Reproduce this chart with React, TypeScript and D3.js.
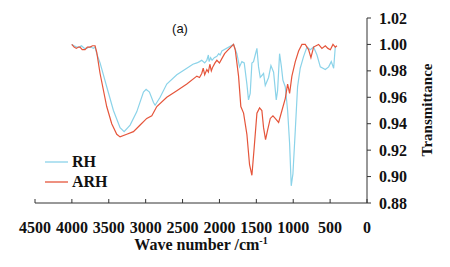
import React from "react";
import * as d3 from "d3";

const rhWn = [4002,3970,3935,3900,3870,3830,3799,3770,3740,3710,3686,3663,3618,3528,3437,3347,3292,3211,3121,3030,2994,2949,2894,2872,2804,2714,2578,2442,2360,2306,2270,2240,2200,2171,2150,2140,2120,2100,2070,2035,2010,1990,1967,1809,1764,1728,1696,1664,1628,1606,1583,1560,1538,1515,1492,1470,1447,1402,1379,1334,1302,1266,1230,1212,1185,1162,1140,1108,1076,1049,1027,1004,972,941,905,859,814,769,724,678,633,565,520,484,452,430];
const rhT = [1.000,0.999,0.998,0.998,0.999,0.997,0.997,0.998,0.998,0.997,0.998,0.993,0.986,0.968,0.950,0.937,0.934,0.939,0.949,0.964,0.966,0.964,0.956,0.954,0.960,0.970,0.977,0.982,0.985,0.986,0.987,0.988,0.986,0.988,0.992,0.987,0.990,0.988,0.990,0.991,0.993,0.992,0.995,1.000,0.993,0.983,0.987,0.986,0.970,0.958,0.963,0.986,0.987,0.992,0.997,0.983,0.975,0.978,0.969,0.975,0.984,0.979,0.958,0.965,0.993,0.984,0.973,0.968,0.950,0.925,0.893,0.902,0.935,0.968,0.982,0.991,0.998,0.996,0.998,0.992,0.983,0.981,0.983,0.987,0.982,0.998];

const arhWn = [4002,3970,3940,3910,3890,3860,3822,3790,3754,3720,3686,3663,3618,3528,3460,3392,3347,3256,3166,3075,2985,2917,2849,2714,2578,2442,2306,2270,2240,2220,2200,2171,2150,2130,2110,2090,2060,2035,2000,1960,1930,1899,1809,1786,1741,1710,1673,1628,1592,1560,1529,1492,1456,1425,1402,1375,1348,1311,1275,1244,1198,1153,1108,1076,1049,1018,972,927,882,837,791,760,724,690,656,611,565,530,497,461,430,407];
const arhT = [1.000,0.998,0.997,0.998,0.998,0.996,0.996,0.998,0.998,0.999,0.999,0.994,0.978,0.953,0.940,0.932,0.930,0.932,0.934,0.939,0.944,0.946,0.953,0.960,0.965,0.970,0.976,0.975,0.978,0.982,0.977,0.981,0.979,0.985,0.980,0.983,0.986,0.988,0.986,0.990,0.993,0.995,1.000,0.996,0.976,0.953,0.948,0.932,0.909,0.901,0.922,0.948,0.952,0.950,0.937,0.928,0.935,0.944,0.946,0.944,0.941,0.950,0.959,0.970,0.963,0.976,0.987,0.995,1.000,1.000,0.996,0.990,0.998,0.999,1.000,0.997,0.999,0.997,0.996,1.000,0.998,0.999];

const xTicks = [4500, 4000, 3500, 3000, 2500, 2000, 1500, 1000, 500, 0];
const yTicks = [0.88, 0.90, 0.92, 0.94, 0.96, 0.98, 1.00, 1.02];

const seriesNames = ["RH", "ARH"];
const colors = ["#8bd3e9", "#e5553b"];

export default function App() {
  const W = 450, H = 267;
  const x = d3.scaleLinear().domain([4500, 0]).range([35, 367]);
  const y = d3.scaleLinear().domain([0.88, 1.02]).range([203, 18]);
  const line = d3.line<[number, number]>().x(d => x(d[0])).y(d => y(d[1]));
  const rh = rhWn.map((w, i) => [w, rhT[i]] as [number, number]);
  const arh = arhWn.map((w, i) => [w, arhT[i]] as [number, number]);
  const serif = "'Liberation Serif', 'Times New Roman', serif";
  return (
    <svg width={W} height={H} style={{ position: "absolute", left: 0, top: 0, background: "#fff" }}>
      <rect width={W} height={H} fill="#fff" />
      <path d={line(rh) || ""} fill="none" stroke={colors[0]} strokeWidth={1.2} />
      <path d={line(arh) || ""} fill="none" stroke={colors[1]} strokeWidth={1.2} />
      {/* x axis */}
      <line x1={x(4500)} x2={x(0)} y1={y(0.88)} y2={y(0.88)} stroke="#333" strokeWidth={1} />
      {xTicks.map(t => (
        <g key={t}>
          <line x1={x(t)} x2={x(t)} y1={y(0.88) - 4} y2={y(0.88)} stroke="#333" />
          <text x={x(t)} y={233} textAnchor="middle" fontFamily={serif} fontWeight="bold" fontSize={16} fill="#111">{t}</text>
        </g>
      ))}
      {/* y axis */}
      <line x1={x(0)} x2={x(0)} y1={y(1.02)} y2={y(0.88)} stroke="#333" strokeWidth={1} />
      {yTicks.map(t => (
        <g key={t}>
          <line x1={x(0)} x2={x(0) + 4} y1={y(t)} y2={y(t)} stroke="#333" />
          <text x={379} y={y(t) + 5.5} textAnchor="start" fontFamily={serif} fontWeight="bold" fontSize={16} fill="#111">{t.toFixed(2)}</text>
        </g>
      ))}
      <text x={0} y={0} transform="translate(432,110) rotate(-90)" textAnchor="middle" fontFamily={serif} fontWeight="bold" fontSize={15} fill="#111">Transmittance</text>
      <text x={201} y={250} textAnchor="middle" fontFamily={serif} fontWeight="bold" fontSize={16} fill="#111">
        Wave number /cm<tspan dy={-6} fontSize={10}>-1</tspan>
      </text>
      <text x={180} y={33} textAnchor="middle" fontFamily="'Liberation Sans', Arial, sans-serif" fontSize={13} fill="#111">(a)</text>
      {/* legend */}
      {seriesNames.map((n, i) => (
        <g key={n}>
          <line x1={45} x2={68} y1={162 + i * 20} y2={162 + i * 20} stroke={colors[i]} strokeWidth={1.3} />
          <text x={72} y={167 + i * 20} fontFamily={serif} fontWeight="bold" fontSize={16} fill="#111">{n}</text>
        </g>
      ))}
    </svg>
  );
}
